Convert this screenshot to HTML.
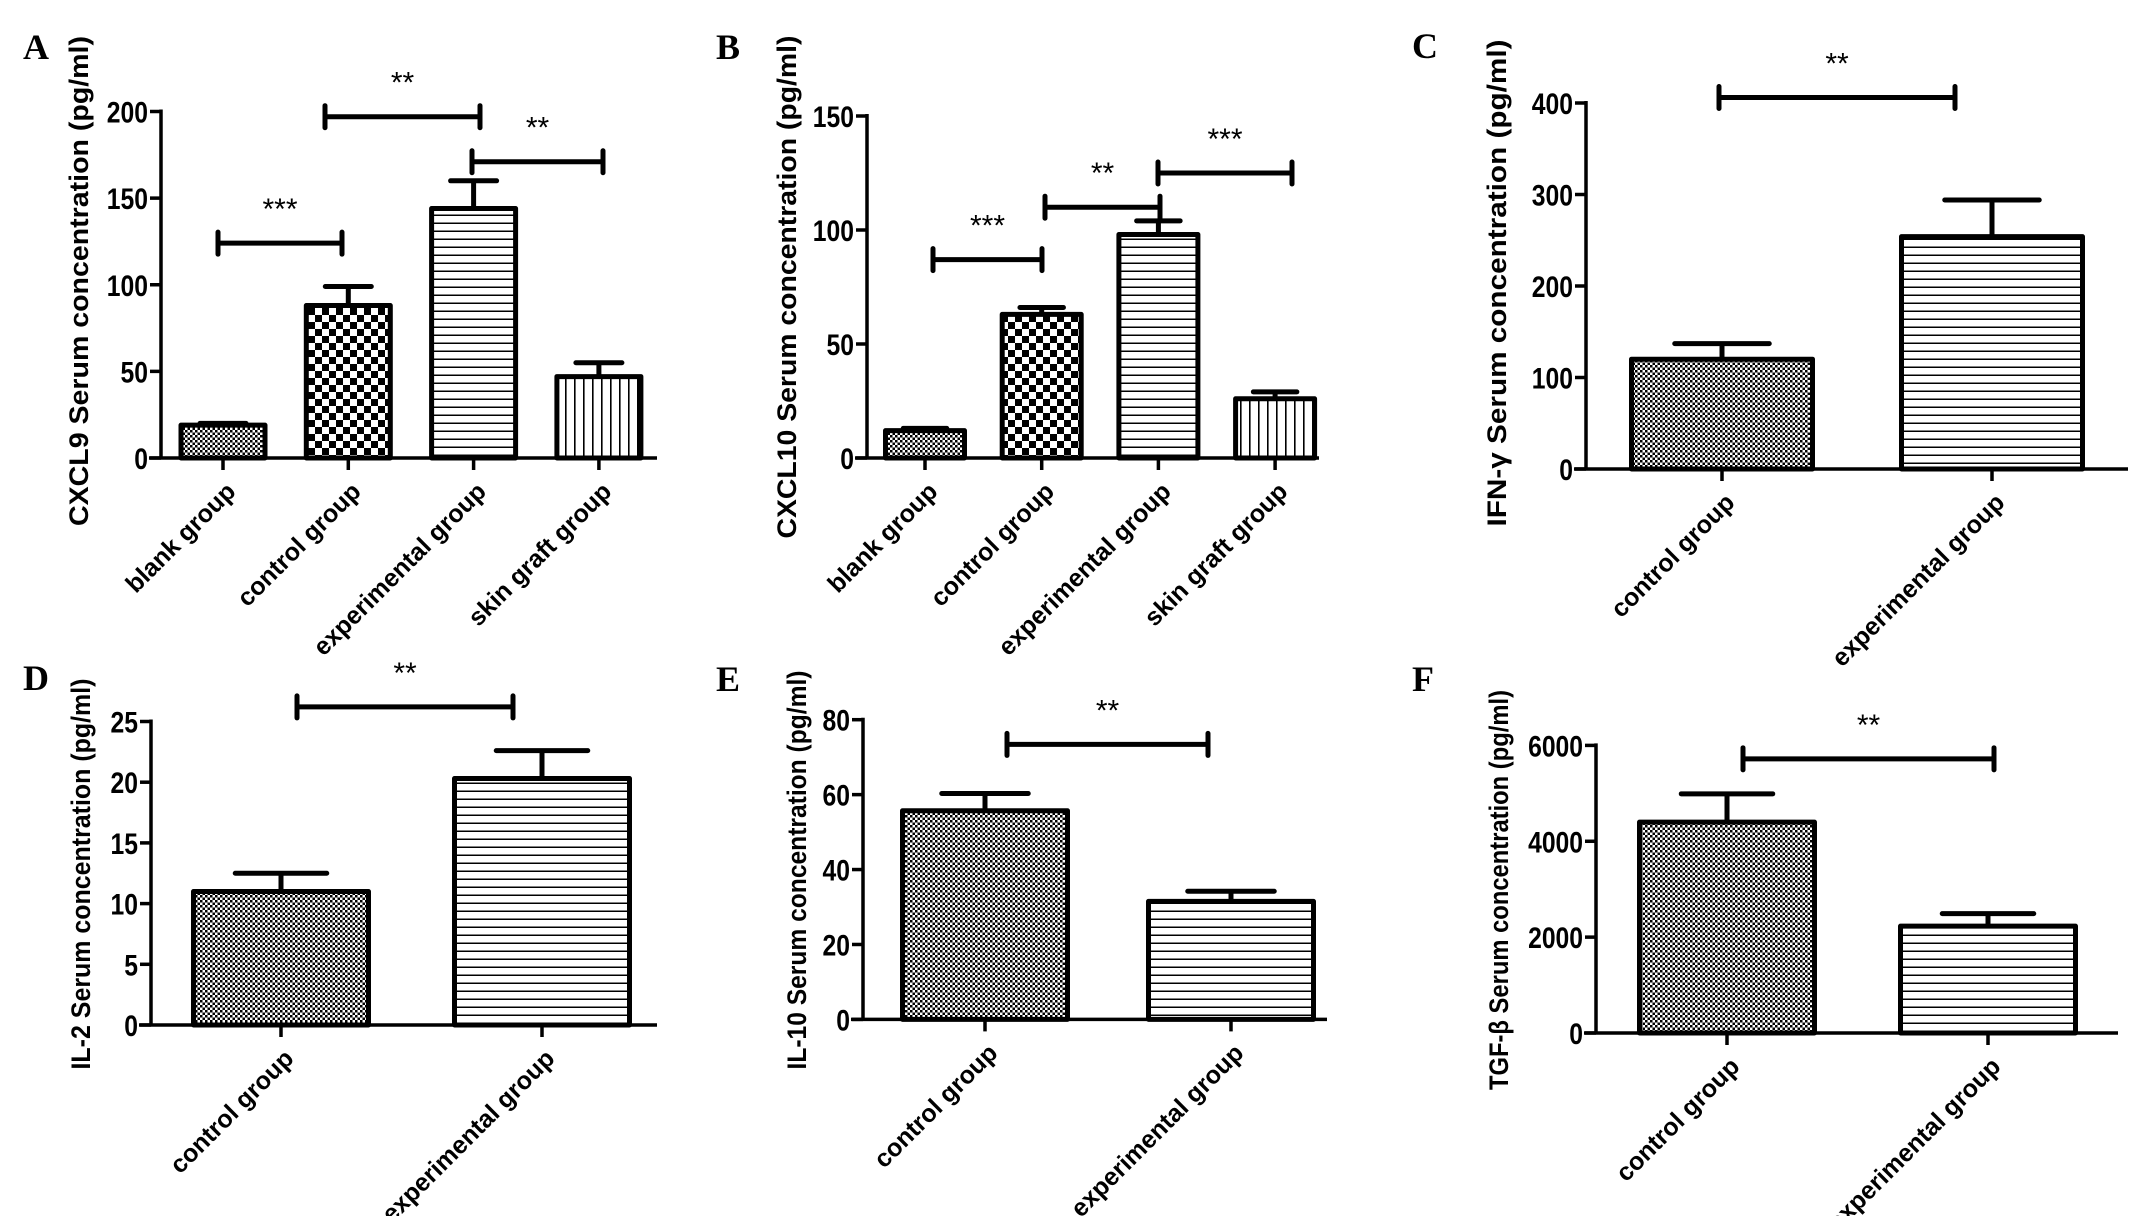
<!DOCTYPE html>
<html><head><meta charset="utf-8">
<style>
html,body{margin:0;padding:0;background:#fff;}
svg{display:block;}
text{font-family:"Liberation Sans",Arial,sans-serif;}
.tick{font-size:26px;font-weight:bold;}
.cat{font-size:25px;font-weight:bold;}
.ytitle{font-size:27px;font-weight:bold;}
.star{font-size:30px;font-weight:500;}
.letter{font-family:"Liberation Serif",serif;font-size:36px;font-weight:bold;}
</style></head>
<body>
<svg id="fig" width="2148" height="1216" viewBox="0 0 2148 1216" xmlns="http://www.w3.org/2000/svg">
<defs>
<pattern id="fine" width="5" height="5" patternUnits="userSpaceOnUse"><rect width="5" height="5" fill="#fff"/><rect width="2.5" height="2.5" fill="#000"/><rect x="2.5" y="2.5" width="2.5" height="2.5" fill="#000"/></pattern>
<pattern id="coarse" width="14" height="14" patternUnits="userSpaceOnUse"><rect width="14" height="14" fill="#fff"/><rect width="7" height="7" fill="#000"/><rect x="7" y="7" width="7" height="7" fill="#000"/></pattern>
<pattern id="hlines" width="8" height="8" patternUnits="userSpaceOnUse"><rect width="8" height="8" fill="#fff"/><rect y="6.5" width="8" height="1.5" fill="#000"/></pattern>
<pattern id="vlines" width="9" height="9" patternUnits="userSpaceOnUse"><rect width="9" height="9" fill="#fff"/><rect x="7" width="1.6" height="9" fill="#000"/></pattern>
</defs>
</svg>
<script>
// Panel A data
const catsA = ["blank group","control group","experimental group","skin graft group"];
const valsA = [19, 88, 144, 47];
const errA = [20, 99, 160, 55];
const ticksA = [0, 50, 100, 150, 200];
// Panel B data
const catsB = ["blank group","control group","experimental group","skin graft group"];
const valsB = [12, 63, 98, 26];
const errB = [13, 66, 104, 29];
const ticksB = [0, 50, 100, 150];
// Panel C data
const catsC = ["control group","experimental group"];
const valsC = [120, 254];
const errC = [137, 294];
const ticksC = [0, 100, 200, 300, 400];
// Panel D data
const catsD = ["control group","experimental group"];
const valsD = [11, 20.3];
const errD = [12.5, 22.6];
const ticksD = [0, 5, 10, 15, 20, 25];
// Panel E data
const catsE = ["control group","experimental group"];
const valsE = [55.7, 31.5];
const errE = [60.3, 34.2];
const ticksE = [0, 20, 40, 60, 80];
// Panel F data
const catsF = ["control group","experimental group"];
const valsF = [4400, 2230];
const errF = [4990, 2490];
const ticksF = [0, 2000, 4000, 6000];
// significance: [fromIndex, toIndex, value, label]
const sigA = [[0,1,124,"***"],[1,2,197,"**"],[2,3,171,"**"]];
const sigB = [[0,1,87,"***"],[1,2,110,"**"],[2,3,125,"***"]];
const sigC = [[0,1,406,"**"]];
const sigD = [[0,1,26.2,"**"]];
const sigE = [[0,1,73.4,"**"]];
const sigF = [[0,1,5720,"**"]];

const panels = [
 {id:"a",letter:"A",lx:23,ly:59,cats:catsA,vals:valsA,err:errA,ticks:ticksA,sig:sigA,max:200,ax:161,top:111.5,base:458,xend:657,first:223,step:125.3,bw:84,fills:["fine","coarse","hlines","vlines"],title:"CXCL9 Serum concentration (pg/ml)",tx:88,tc:281,tl:490,sl:[218,342,325,480,472,603]},
 {id:"b",letter:"B",lx:716,ly:59,cats:catsB,vals:valsB,err:errB,ticks:ticksB,sig:sigB,max:150,ax:867,top:116,base:458,xend:1319,first:925,step:116.7,bw:79,fills:["fine","coarse","hlines","vlines"],title:"CXCL10 Serum concentration (pg/ml)",tx:796,tc:287,tl:503,sl:[933,1042,1045,1160,1158,1292]},
 {id:"c",letter:"C",lx:1412,ly:58,cats:catsC,vals:valsC,err:errC,ticks:ticksC,sig:sigC,max:400,ax:1586,top:103,base:469,xend:2128,first:1722,step:270,bw:181,fills:["fine","hlines"],title:"IFN-γ Serum concentration (pg/ml)",tx:1506,tc:283,tl:487,sl:[1719,1955]},
 {id:"d",letter:"D",lx:23,ly:690,cats:catsD,vals:valsD,err:errD,ticks:ticksD,sig:sigD,max:25,ax:151,top:721.5,base:1025,xend:657,first:281,step:261,bw:175,fills:["fine","hlines"],title:"IL-2 Serum concentration (pg/ml)",tx:90,tc:874,tl:391,sl:[297,513]},
 {id:"e",letter:"E",lx:716,ly:691,cats:catsE,vals:valsE,err:errE,ticks:ticksE,sig:sigE,max:80,ax:863,top:719.7,base:1019.4,xend:1327,first:985,step:246,bw:165,fills:["fine","hlines"],title:"IL-10 Serum concentration (pg/ml)",tx:806,tc:870,tl:399,sl:[1007,1208]},
 {id:"f",letter:"F",lx:1412,ly:691,cats:catsF,vals:valsF,err:errF,ticks:ticksF,sig:sigF,max:6000,ax:1596,top:745.4,base:1033,xend:2118,first:1727,step:261,bw:175,fills:["fine","hlines"],title:"TGF-β Serum concentration (pg/ml)",tx:1508,tc:890,tl:400,sl:[1743,1994]}
];
const NS="http://www.w3.org/2000/svg";
const svg=document.getElementById("fig");
function mk(tag,attrs,parent){const e=document.createElementNS(NS,tag);for(const k in attrs)e.setAttribute(k,attrs[k]);(parent||svg).appendChild(e);return e;}

panels.forEach(p=>{
  const g=mk("g",{});
  
  
  const y=v=>p.base-(v/p.max)*(p.base-p.top);
  const x=i=>p.first+i*p.step;
  const L=mk("text",{x:p.lx,y:p.ly,class:"letter"},g);L.textContent=p.letter;
  
  
  const T=mk("text",{class:"ytitle","text-anchor":"middle",transform:`translate(${p.tx},${p.tc}) rotate(-90)`,textLength:p.tl,lengthAdjust:"spacingAndGlyphs"},g);
  T.textContent=p.title;
  
  
  p.vals.forEach((v,i)=>{
    const cx=x(i),yt=y(v),ye=y(p.err[i]);
    const l=mk("line",{x1:cx,x2:cx,y1:yt,y2:ye,stroke:"#000","stroke-width":5},g);
    
    
    const c=mk("line",{x1:cx-p.bw/4-2,x2:cx+p.bw/4+2,y1:ye,y2:ye,stroke:"#000","stroke-width":5,"stroke-linecap":"round"},g);
    
    
    const r=mk("rect",{x:cx-p.bw/2,y:yt,width:p.bw,height:p.base-yt,fill:`url(#${p.fills[i]})`,stroke:"#000","stroke-width":5,"stroke-linejoin":"round"},g);
    
    
    const tk=mk("line",{x1:cx,x2:cx,y1:p.base,y2:p.base+12,stroke:"#000","stroke-width":3.5},g);
    
    
    const t=mk("text",{class:"cat","text-anchor":"end",transform:`translate(${cx+14},${p.base+35}) rotate(-45)`},g);
    t.textContent=p.cats[i];
    
    
  });
  const ya=mk("line",{x1:p.ax,x2:p.ax,y1:p.top-2,y2:p.base,stroke:"#000","stroke-width":3.5},g);
  
  
  const xa=mk("line",{x1:p.ax-12,x2:p.xend,y1:p.base,y2:p.base,stroke:"#000","stroke-width":3.5},g);
  
  
  p.ticks.forEach(tv=>{
    const ty=y(tv);
    const tl=mk("line",{x1:p.ax-11,x2:p.ax,y1:ty,y2:ty,stroke:"#000","stroke-width":3.5},g);
    
    
    const tt=mk("text",{class:"tick","text-anchor":"end",transform:`translate(${p.ax-13},${ty+11}) scale(0.95,1.15)`},g);
    tt.textContent=tv;
    
    
  });
  p.sig.forEach((s,k)=>{
    const x1=p.sl[k*2],x2=p.sl[k*2+1],sy=y(s[2]);
    const sg=mk("path",{d:`M${x1},${sy-11}V${sy+11}M${x1},${sy}H${x2}M${x2},${sy-11}V${sy+11}`,stroke:"#000","stroke-width":5,fill:"none","stroke-linecap":"round"},g);
    
    
    const st=mk("text",{class:"star","text-anchor":"middle",x:(x1+x2)/2,y:sy-24},g);
    st.textContent=s[3];
    
    
  });
});
</script>
</body></html>
